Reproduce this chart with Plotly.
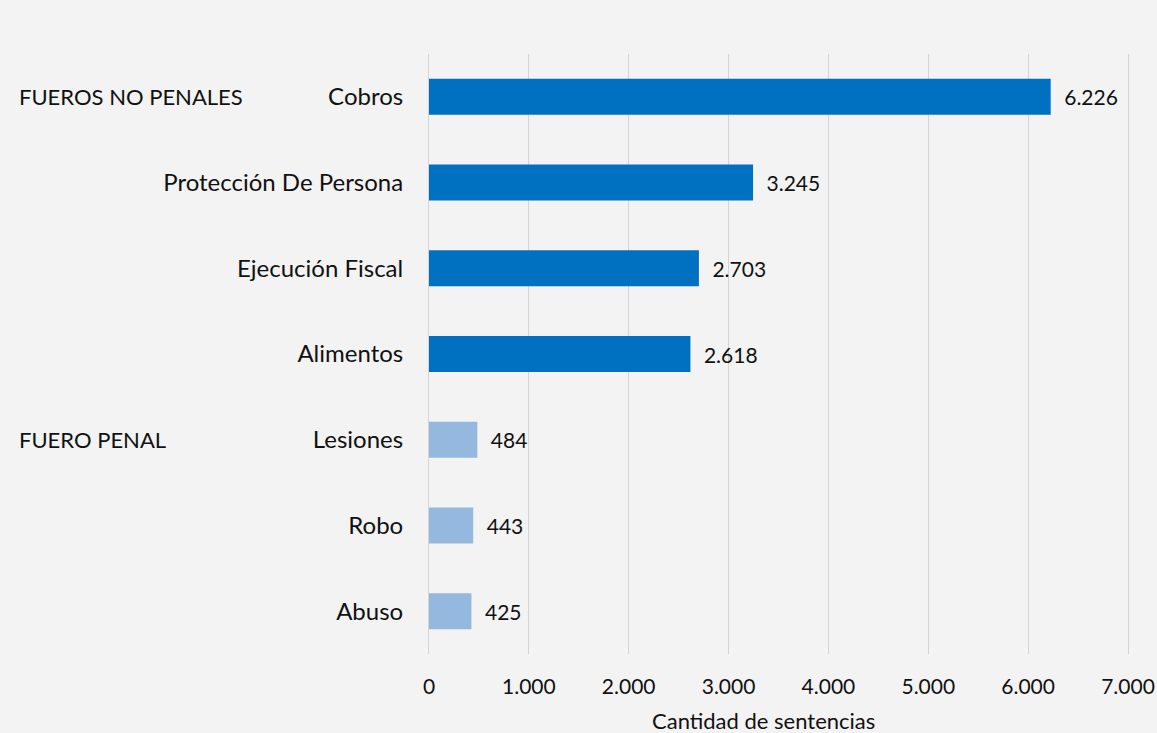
import plotly.graph_objects as go

categories = ["Cobros", "Protección De Persona", "Ejecución Fiscal", "Alimentos",
              "Lesiones", "Robo", "Abuso"]
values = [6226, 3245, 2703, 2618, 484, 443, 425]
groups = ["no_penal", "no_penal", "no_penal", "no_penal", "penal", "penal", "penal"]
group_labels = {"no_penal": "FUEROS NO PENALES", "penal": "FUERO PENAL"}
group_colors = {"no_penal": "#0070C0", "penal": "#95B8DE"}
x_ticks = [0, 1000, 2000, 3000, 4000, 5000, 6000, 7000]
x_ticklabels = ["0", "1.000", "2.000", "3.000", "4.000", "5.000", "6.000", "7.000"]
x_title = "Cantidad de sentencias"

def fmt(v):
    return f"{v:,}".replace(",", ".")

font_family = "Lato, 'Open Sans', sans-serif"

fig = go.Figure()
fig.add_trace(go.Bar(
    y=categories,
    x=values,
    orientation="h",
    marker=dict(color=[group_colors[g] for g in groups], line=dict(width=0)),
    width=0.42,
    text=["\u2002" + fmt(v) for v in values],
    textposition="outside",
    textfont=dict(size=21, color="#111111", family=font_family),
    cliponaxis=False,
    hoverinfo="skip",
))

# group labels
first_of_group = {}
for c, g in zip(categories, groups):
    first_of_group.setdefault(g, c)
for g, c in first_of_group.items():
    fig.add_annotation(
        x=0.0, xref="paper", y=c, yref="y",
        xshift=-412, xanchor="left", yanchor="middle",
        text=group_labels[g], showarrow=False,
        font=dict(size=22, color="#111111", family=font_family),
    )

# x axis title (placed slightly left of centre, as in the reference)
fig.add_annotation(
    x=0.478, xref="paper", y=-0.11, yref="paper",
    xanchor="center", yanchor="middle",
    text=x_title, showarrow=False,
    font=dict(size=22, color="#111111", family=font_family),
)

fig.update_layout(
    width=1157, height=733,
    margin=dict(l=429, r=29, t=54, b=79, autoexpand=False),
    paper_bgcolor="#f3f3f3",
    plot_bgcolor="rgba(0,0,0,0)",
    showlegend=False,
    font=dict(family=font_family, color="#111111"),
)
fig.update_xaxes(
    range=[0, 7000],
    tickvals=x_ticks, ticktext=x_ticklabels,
    showgrid=True, gridcolor="#d4d4d4", gridwidth=1,
    zeroline=False, showline=False,
    automargin=False,
    tickfont=dict(size=21, color="#111111"),
    ticklabelstandoff=18,
)
fig.update_yaxes(
    categoryorder="array", categoryarray=categories[::-1],
    showgrid=False, zeroline=False,
    showline=True, mirror=True, linecolor="#d4d4d4", linewidth=1,
    automargin=False,
    tickfont=dict(size=24, color="#111111"),
    ticklabelstandoff=20,
    ticks="",
)

fig.write_html(
    "out.html",
    config={"displayModeBar": False},
    post_script="document.body.style.margin='0';document.body.style.overflow='hidden';",
)
